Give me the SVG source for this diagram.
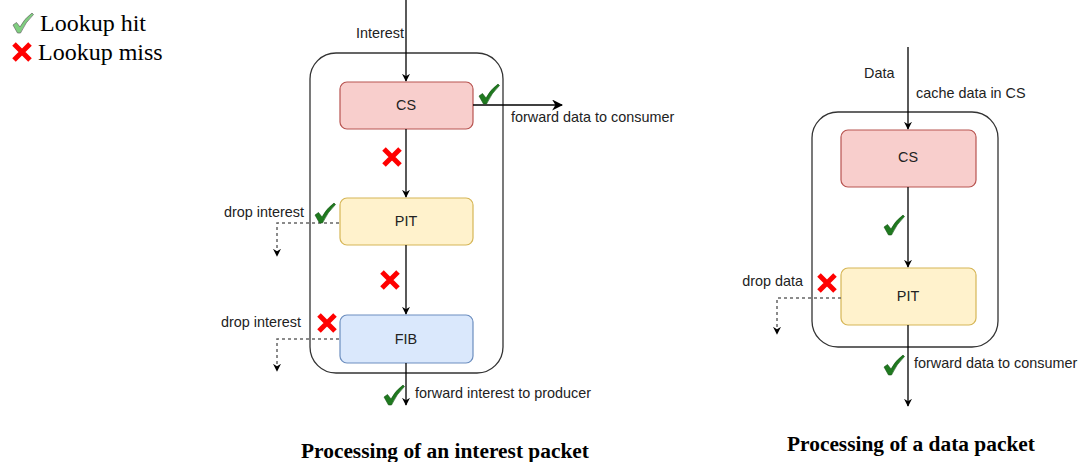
<svg xmlns="http://www.w3.org/2000/svg" width="1078" height="462" viewBox="0 0 1078 462">
<defs>
<marker id="ah" viewBox="0 0 10 10" refX="9" refY="5" markerWidth="8" markerHeight="8" orient="auto" markerUnits="userSpaceOnUse"><path d="M0,0 L10,5 L0,10 L3,5 Z" fill="#000"/></marker>
<marker id="ah2" viewBox="0 0 10 10" refX="9" refY="5" markerWidth="11" markerHeight="11" orient="auto" markerUnits="userSpaceOnUse"><path d="M0,0 L10,5 L0,10 L3,5 Z" fill="#000"/></marker>
<path id="chk" d="M0,7 L3.5,4.5 L7,9 Q11,1 19,-5 L20.5,-3.5 Q12.5,4 7.5,15 L4.5,15 Z"/>
<path id="xx" d="M-8,-8 L8,8 M8,-8 L-8,8"/>
</defs>
<style>
.box{stroke-width:1.2}
.cs{fill:#f8cecc;stroke:#b85450}
.pit{fill:#fff2cc;stroke:#d6b656}
.fib{fill:#dae8fc;stroke:#6c8ebf}
.cont{fill:none;stroke:#333;stroke-width:1.3}
.lbl{font-family:"Liberation Sans",Arial,sans-serif;font-size:14.4px;fill:#222}
.nl{font-family:"Liberation Sans",Arial,sans-serif;font-size:14.4px;fill:#222;text-anchor:middle}
.title{font-family:"Liberation Serif","Times New Roman",serif;font-size:21.4px;font-weight:bold;fill:#000;text-anchor:middle}
.leg{font-family:"Liberation Serif","Times New Roman",serif;font-size:24px;fill:#000}
.line{stroke:#000;stroke-width:1.3;fill:none}
.dash{stroke:#666;stroke-width:1.5;fill:none;stroke-dasharray:3,3}
.ok{fill:#1f7a1f;stroke:#145214;stroke-width:0.6}
.no{stroke:#ff0000;stroke-width:5;fill:none}
</style>

<g id="legend">
<use href="#chk" x="13" y="18" fill="#7fcf7f" stroke="#666" stroke-width="0.7"/>
<text class="leg" x="40" y="31">Lookup hit</text>
<use href="#xx" x="22" y="52" class="no" stroke-width="4.5"/>
<text class="leg" x="38" y="60">Lookup miss</text>
</g>

<g id="interest-container"><rect class="cont" x="310" y="53" width="193" height="320" rx="26"/></g>
<g id="cs1"><rect class="box cs" x="340" y="82" width="133" height="47" rx="7"/><text class="nl" x="406" y="110">CS</text></g>
<g id="pit1"><rect class="box pit" x="340" y="198" width="133" height="47" rx="7"/><text class="nl" x="406" y="226">PIT</text></g>
<g id="fib1"><rect class="box fib" x="340" y="315" width="133" height="48" rx="7"/><text class="nl" x="406" y="344">FIB</text></g>

<g id="data-container"><rect class="cont" x="812" y="112" width="186" height="235" rx="26"/></g>
<g id="cs2"><rect class="box cs" x="841" y="130" width="135" height="57" rx="7"/><text class="nl" x="908" y="162">CS</text></g>
<g id="pit2"><rect class="box pit" x="841" y="268" width="135" height="57" rx="7"/><text class="nl" x="908" y="301">PIT</text></g>

<g id="connectors">
<path class="line" d="M406,0 V81" marker-end="url(#ah)"/>
<path class="line" d="M406,129 V197" marker-end="url(#ah)"/>
<path class="line" d="M406,245 V314" marker-end="url(#ah)"/>
<path class="line" d="M406,363 V405" marker-end="url(#ah)"/>
<path class="line" d="M473,105 H562" marker-end="url(#ah2)"/>
<path class="dash" d="M339,223 H277 V256" marker-end="url(#ah)"/>
<path class="dash" d="M339,339 H277 V371" marker-end="url(#ah)"/>
<path class="line" d="M908,47 V129" marker-end="url(#ah)"/>
<path class="line" d="M908,187 V267" marker-end="url(#ah)"/>
<path class="line" d="M908,325 V406" marker-end="url(#ah)"/>
<path class="dash" d="M841,298 H777 V334" marker-end="url(#ah)"/>
</g>

<g id="labels">
<text class="lbl" x="356" y="38">Interest</text>
<text class="lbl" x="511" y="122">forward data to consumer</text>
<text class="lbl" x="304" y="217" text-anchor="end">drop interest</text>
<text class="lbl" x="301" y="327" text-anchor="end">drop interest</text>
<text class="lbl" x="415" y="398">forward interest to producer</text>
<text class="lbl" x="864" y="78">Data</text>
<text class="lbl" x="916" y="98">cache data in CS</text>
<text class="lbl" x="803" y="286" text-anchor="end">drop data</text>
<text class="lbl" x="914" y="368">forward data to consumer</text>
<text class="title" x="445" y="458">Processing of an interest packet</text>
<text class="title" x="911" y="451">Processing of a data packet</text>
</g>

<g id="marks">
<use href="#chk" x="479" y="89" class="ok"/>
<use href="#chk" x="315" y="208" class="ok"/>
<use href="#chk" x="384" y="390" class="ok"/>
<use href="#chk" x="884" y="220" class="ok"/>
<use href="#chk" x="884" y="360" class="ok"/>
<use href="#xx" x="392" y="157" class="no"/>
<use href="#xx" x="390" y="280" class="no"/>
<use href="#xx" x="327" y="323" class="no"/>
<use href="#xx" x="827" y="283" class="no"/>
</g>
</svg>
